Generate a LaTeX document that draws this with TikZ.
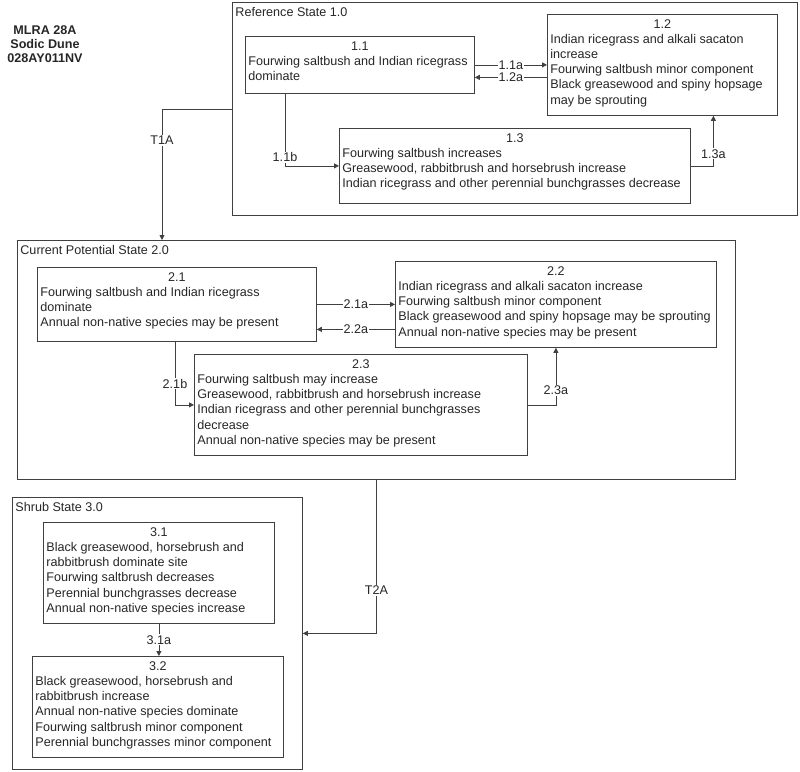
\documentclass[tikz,border=0pt]{standalone}
\usepackage{fontspec}
\setmainfont{Liberation Sans}
\usetikzlibrary{arrows.meta}
\definecolor{lncol}{HTML}{404040}
\definecolor{txcol}{HTML}{262626}
\newcommand{\stbox}[4]{\parbox[t][\dimexpr#2-10pt\relax][t]{\dimexpr#1-6pt\relax}{\centering #3\par\raggedright\begin{tabular}[t]{@{}l@{}}#4\end{tabular}\par}}
\newcommand{\stlab}[3]{\parbox[t][\dimexpr#2-10pt\relax][t]{\dimexpr#1-6pt\relax}{\raggedright #3\par}}
\tikzset{
  txtfont/.style={font=\fontsize{12.6}{15.2}\selectfont},
  sbox/.style={draw=lncol, line width=0.8pt, inner xsep=3pt, inner ysep=5pt, anchor=north west, text=txcol, txtfont},
  lbl/.style={fill=white, inner sep=1pt, text=txcol, txtfont},
  arr/.style={draw=lncol, line width=0.8pt, -{Triangle[length=5pt,width=5pt]}}
}
\begin{document}
\begin{tikzpicture}[x=1pt,y=-1pt]
\useasboundingbox (0,0) rectangle (800,771);
% title
\node[align=center, text=txcol, font=\fontsize{12.6}{14}\selectfont\bfseries] (title) at (45,44) {MLRA 28A\\Sodic Dune\\028AY011NV};
% state boxes
\node[sbox] (ref) at (232,2) {\stlab{565pt}{213pt}{Reference State 1.0}};
\node[sbox] (cur) at (17,240) {\stlab{718pt}{239pt}{Current Potential State 2.0}};
\node[sbox] (shrub) at (12,497) {\stlab{290pt}{272pt}{Shrub State 3.0}};
% community boxes
\node[sbox] (b11) at (245,36) {\stbox{229pt}{57pt}{1.1}{Fourwing saltbush and Indian ricegrass\\dominate}};
\node[sbox] (b12) at (547,14) {\stbox{230pt}{101pt}{1.2}{Indian ricegrass and alkali sacaton\\increase\\Fourwing saltbush minor component\\Black greasewood and spiny hopsage\\may be sprouting}};
\node[sbox] (b13) at (339,128) {\stbox{351pt}{75pt}{1.3}{Fourwing saltbush increases\\Greasewood, rabbitbrush and horsebrush increase\\Indian ricegrass and other perennial bunchgrasses decrease}};
\node[sbox] (b21) at (37,267) {\stbox{279pt}{74pt}{2.1}{Fourwing saltbush and Indian ricegrass\\dominate\\Annual non-native species may be present}};
\node[sbox] (b22) at (395,261) {\stbox{321pt}{86pt}{2.2}{Indian ricegrass and alkali sacaton increase\\Fourwing saltbush minor component\\Black greasewood and spiny hopsage may be sprouting\\Annual non-native species may be present}};
\node[sbox] (b23) at (194,354) {\stbox{333pt}{101pt}{2.3}{Fourwing saltbush may increase\\Greasewood, rabbitbrush and horsebrush increase\\Indian ricegrass and other perennial bunchgrasses\\decrease\\Annual non-native species may be present}};
\node[sbox] (b31) at (43,522) {\stbox{231pt}{101pt}{3.1}{Black greasewood, horsebrush and\\rabbitbrush dominate site\\Fourwing saltbrush decreases\\Perennial bunchgrasses decrease\\Annual non-native species increase}};
\node[sbox] (b32) at (32,656) {\stbox{251pt}{101pt}{3.2}{Black greasewood, horsebrush and\\rabbitbrush increase\\Annual non-native species dominate\\Fourwing saltbrush minor component\\Perennial bunchgrasses minor component}};
% connectors
\draw[arr] (b11.east) -- node[lbl]{1.1a} (b12.west);
\draw[arr] ([yshift=-12.5pt]b12.west) -- node[lbl]{1.2a} ([yshift=-12.5pt]b11.east);
\draw[arr] ([xshift=40pt]b11.south west) |- node[lbl,pos=0.44]{1.1b} (b13.west);
\draw[arr] (b13.east) -| node[lbl,pos=0.62]{1.3a} ([xshift=51pt]b12.south);
\draw[arr] (ref.west) -| node[lbl,pos=0.62]{T1A} ([xshift=145pt]cur.north west);
\draw[arr] (b21.east) -- node[lbl]{2.1a} (b22.west);
\draw[arr] ([yshift=-25pt]b22.west) -- node[lbl]{2.2a} ([yshift=-25pt]b21.east);
\draw[arr] ([xshift=138pt]b21.south west) |- node[lbl,pos=0.333]{2.1b} (b23.west);
\draw[arr] (b23.east) -| node[lbl,pos=0.625]{2.3a} (b22.south);
\draw[arr] (cur.south) |- node[lbl,pos=0.36]{T2A} (shrub.east);
\draw[arr] (b31.south) -- node[lbl]{3.1a} (b31.south |- b32.north);
\end{tikzpicture}
\end{document}
